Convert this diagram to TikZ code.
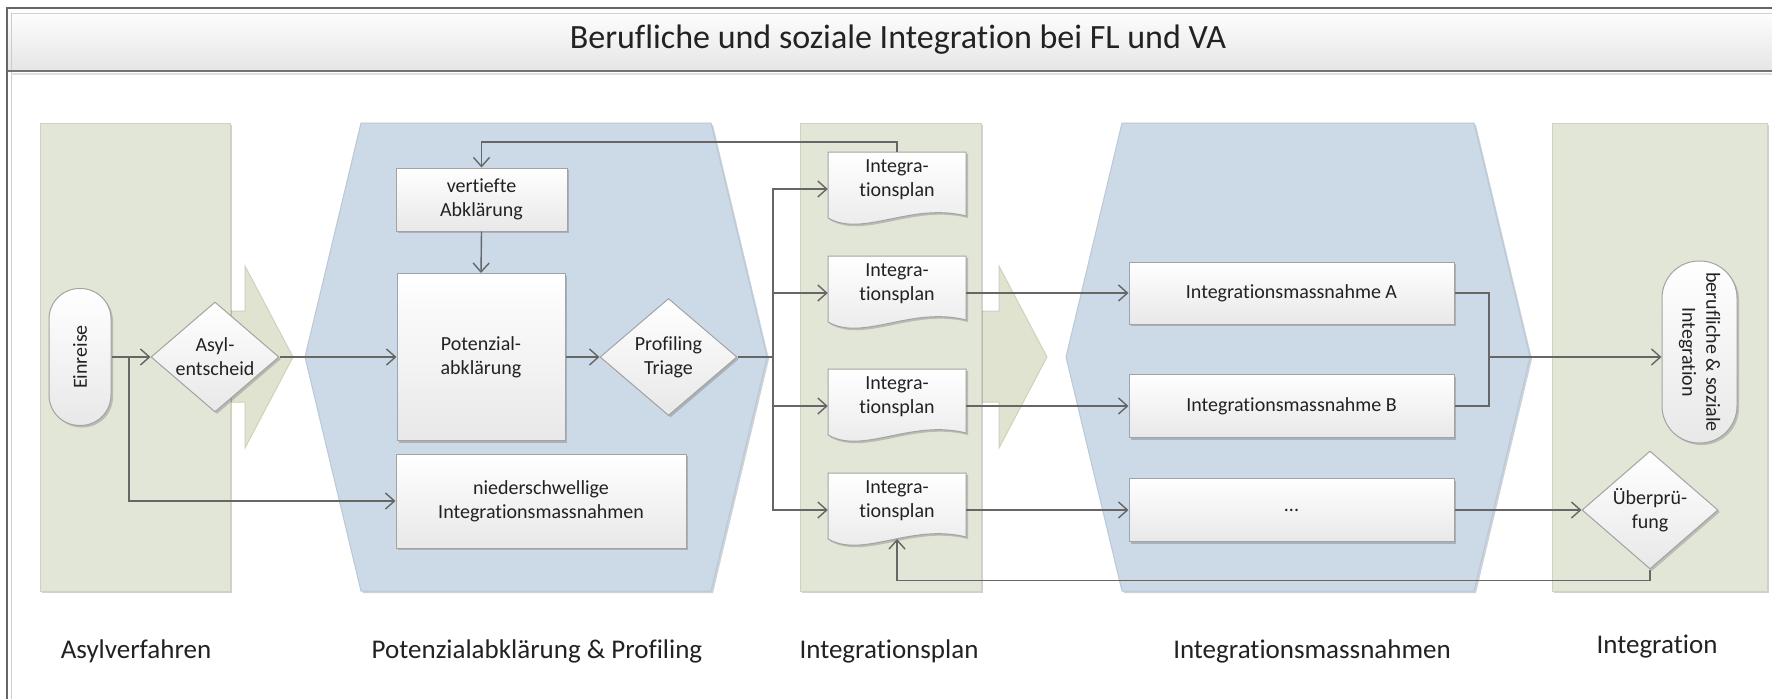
\documentclass[tikz,border=0pt]{standalone}
\usepackage{fontspec}
\setmainfont[Ligatures={NoCommon}]{Carlito}
\usetikzlibrary{arrows.meta,shapes.geometric,shadows,calc}

\definecolor{lanegreen}{HTML}{E2E6D7}
\definecolor{laneedge}{HTML}{CDD3BD}
\definecolor{arrowgreen}{HTML}{DFE3D0}
\definecolor{hexblue}{HTML}{CCDAE7}
\definecolor{hexedge}{HTML}{B7C9DA}
\definecolor{wire}{HTML}{666666}
\definecolor{boxedge}{HTML}{A3A3A3}
\definecolor{ink}{HTML}{222222}

\tikzset{
  txt/.style={font=\fontsize{20}{24}\selectfont, align=center, text=ink},
  softshadow/.style={drop shadow={shadow xshift=2pt, shadow yshift=-2pt, opacity=0.18, fill=black}},
  proc/.style={rectangle, draw=boxedge, line width=1pt, top color=white, bottom color=black!9,
               txt, inner sep=0pt, softshadow},
  decision/.style={diamond, draw=boxedge, line width=1pt, top color=white, bottom color=black!9,
                   inner sep=0pt, softshadow},
  docshape/.style={draw=boxedge, line width=1pt, top color=white, bottom color=black!9, softshadow},
  docnode/.style={rectangle, minimum width=138pt, minimum height=74pt, inner sep=0pt},
  flow/.style={draw=wire, line width=1.4pt, -{Straight Barb[length=9pt,width=16pt]}},
  plain/.style={draw=wire, line width=1.4pt},
  lane/.style={fill=lanegreen, draw=laneedge, line width=1pt, softshadow},
  hexa/.style={fill=hexblue, draw=hexedge, line width=1pt, softshadow},
  bigarrow/.style={fill=arrowgreen, draw=laneedge, line width=1pt},
  phase/.style={font=\fontsize{27}{32}\selectfont, text=ink},
}

% document symbol with a wavy lower edge; #1 node name, #2 top edge
\newcommand\plandoc[2]{%
  \path[docshape] (828,#2) -- (966,#2) -- (966,#2+64)
     .. controls (911,#2+50) and (863,#2+86) .. (828,#2+66) -- cycle;
  \node[docnode, label={[txt,yshift=9pt]center:{Integra-\\tionsplan}}] (#1) at (897,#2+37) {};
}

\begin{document}
\begin{tikzpicture}[x=1pt,y=-1pt]
\useasboundingbox (0,0) rectangle (1772,699);
\fill[white] (0,0) rectangle (1772,699);

% frame and title band
\shade[top color=white, bottom color=black!10] (7,8) rectangle (1772,71);
\draw[black!18, line width=1pt] (11,13) -- (1772,13);
\draw[black!20, line width=1pt] (11,13) -- (11,699);
\draw[black!55, line width=1.6pt] (7,71) -- (1772,71);
\draw[black!12, line width=2pt] (11,74) -- (1772,74);
\draw[black!60, line width=1.4pt] (7,699) -- (7,8) -- (1772,8);
\node[font=\fontsize{34}{40}\selectfont, text=ink] (title) at (898,40)
  {Berufliche und soziale Integration bei FL und VA};

% phase arrows behind the lanes
\path[bigarrow] (200,311) -- (245,311) -- (245,266) -- (293,357) -- (245,448)
  -- (245,402) -- (200,402) -- cycle;
\path[bigarrow] (960,311) -- (999,311) -- (999,266) -- (1047,357) -- (999,448)
  -- (999,402) -- (960,402) -- cycle;

% lanes
\path[lane] (40,123) rectangle (230,591);
\path[lane] (800,123) rectangle (981,591);
\path[lane] (1552,123) rectangle (1767,591);
\path[hexa] (361,123) -- (711,123) -- (767,357) -- (711,591) -- (361,591) -- (305,357) -- cycle;
\path[hexa] (1122,123) -- (1474,123) -- (1530,357) -- (1474,591) -- (1122,591) -- (1066,357) -- cycle;

% Asylverfahren
\node[proc, minimum width=62pt, minimum height=137pt, rounded corners=30.5pt,
      label={[txt,rotate=90]center:Einreise}] (einreise) at (80,357) {};
\node[decision, minimum width=128pt, minimum height=110pt,
      label={[txt]center:{Asyl-\\entscheid}}] (asyl) at (215,357) {};

% Potenzialabklaerung & Profiling
\node[proc, minimum width=171pt, minimum height=63pt] (vert) at (481.5,199.5) {vertiefte\\Abklärung};
\node[proc, minimum width=168pt, minimum height=167pt] (pot) at (481,357) {Potenzial-\\abklärung};
\node[decision, minimum width=137pt, minimum height=117pt,
      label={[txt]center:{Profiling\\Triage}}] (prof) at (668.5,357) {};
\node[proc, minimum width=290pt, minimum height=94pt] (nieder) at (541,501)
  {niederschwellige\\Integrationsmassnahmen};

% Integrationsplan
\plandoc{d1}{152}
\plandoc{d2}{256}
\plandoc{d3}{369}
\plandoc{d4}{473}

% Integrationsmassnahmen
\node[proc, minimum width=325pt, minimum height=62pt] (mA) at (1291.5,293) {Integrationsmassnahme A};
\node[proc, minimum width=325pt, minimum height=63pt] (mB) at (1291.5,406) {Integrationsmassnahme B};
\node[proc, minimum width=325pt, minimum height=63pt] (mC) at (1291.5,510) {...};

% Integration
\node[proc, minimum width=75pt, minimum height=182pt, rounded corners=37pt,
      label={[txt,rotate=-90]center:{berufliche \& soziale\\Integration}}] (beruf) at (1699.5,352) {};
\node[decision, minimum width=136pt, minimum height=118pt,
      label={[txt]center:{Überprü-\\fung}}] (ueber) at (1650,510) {};

% junction points
\coordinate (s1) at (129,357);
\coordinate (s2) at (773,357);
\coordinate (m1) at (1489,357);
\coordinate (d4b) at (897,539);

% connectors
\draw[flow] (einreise.east) -- (asyl.west);
\draw[flow] (s1) |- (nieder.west);
\draw[flow] (asyl.east) -- (pot.west);
\draw[flow] (vert.south) -- (pot.north);
\draw[flow] (pot.east) -- (prof.west);
\draw[plain] (prof.east) -- (s2);
\draw[flow] (s2) |- (d1.west);
\draw[flow] (s2) |- (d2.west);
\draw[flow] (s2) |- (d3.west);
\draw[flow] (s2) |- (d4.west);
\draw[flow] (d1.north) -- ++(0,-10) -| (vert.north);
\draw[flow] (d2.east) -- (mA.west);
\draw[flow] (d3.east) -- (mB.west);
\draw[flow] (d4.east) -- (mC.west);
\draw[plain] (mA.east) -| (m1) |- (mB.east);
\draw[flow] (m1) -- (m1 -| beruf.west);
\draw[flow] (mC.east) -- (ueber.west);
\draw[flow] (ueber.south) -- ++(0,11) -| (d4b);

% phase captions
\node[phase] (p1) at (136,651) {Asylverfahren};
\node[phase] (p2) at (537,651) {Potenzialabklärung \& Profiling};
\node[phase] (p3) at (889,651) {Integrationsplan};
\node[phase] (p4) at (1312,651) {Integrationsmassnahmen};
\node[phase] (p5) at (1657,647) {Integration};
\end{tikzpicture}
\end{document}
